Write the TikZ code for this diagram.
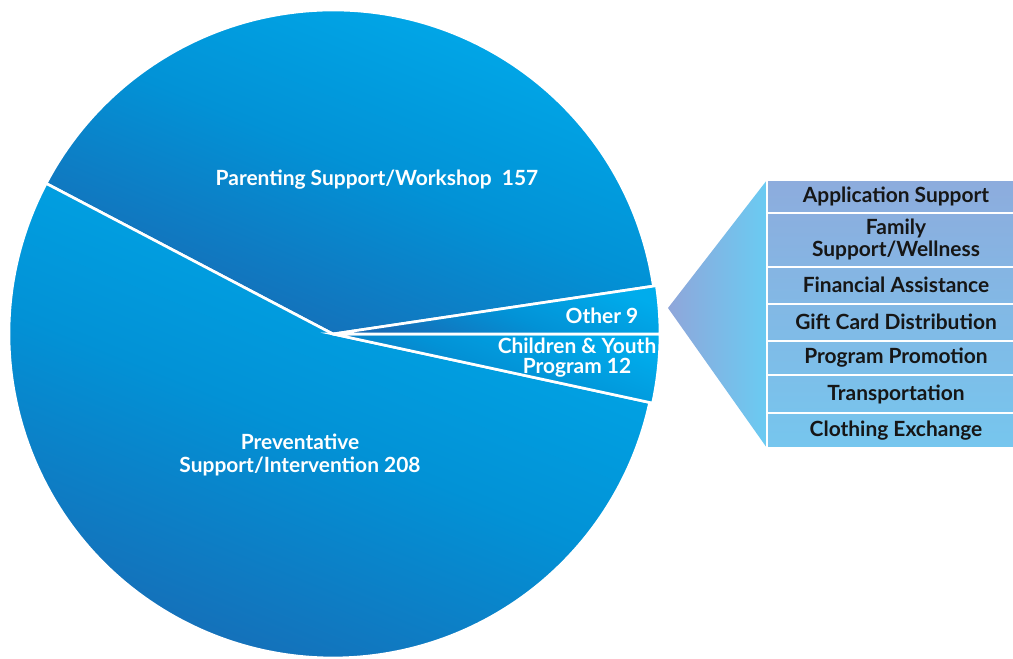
\documentclass[tikz,border=0pt]{standalone}
\usepackage{fontspec}
\setmainfont{Lato}
\tikzset{every picture/.style={line width=0.75pt}}

\definecolor{pielight}{RGB}{0,172,236}
\definecolor{piemid}{RGB}{2,146,214}
\definecolor{piedark}{RGB}{24,106,180}
\definecolor{trileft}{RGB}{143,166,218}
\definecolor{triright}{RGB}{106,203,242}
\definecolor{tabtop}{RGB}{141,172,221}
\definecolor{tabbot}{RGB}{118,198,238}
\definecolor{rowink}{RGB}{22,22,22}

\tikzset{
  slice/.style={draw=white, line width=2pt, top color=pielight, bottom color=piedark, middle color=piemid, shading angle=-22},
  rowline/.style={draw=white, line width=1.5pt},
  pielabel/.style={text=white, font=\bfseries\fontsize{15.7}{17}\selectfont, align=center, inner sep=0.75pt},
  rowtext/.style={text=rowink, font=\bfseries\fontsize{15.7}{16.5}\selectfont, align=center, inner sep=0.75pt}
}

\begin{document}
\begin{tikzpicture}[x=0.75pt,y=0.75pt,yscale=-1,xscale=1]
\clip (0,0) rectangle (1013,658);

%Shape: Pie slice [id:parenting]
\shade[slice] (333,334) -- ++(-8.5:324) arc (-8.5:-152.3:324) -- cycle ;
%Shape: Pie slice [id:preventative]
\shade[slice] (333,334) -- ++(-152.3:324) arc (-152.3:-347.8:324) -- cycle ;
%Shape: Pie slice [id:children]
\shade[slice] (333,334) -- ++(12.2:327) arc (12.2:0:327) -- cycle ;
%Shape: Pie slice [id:other]
\shade[slice] (333,334) -- ++(0:327) arc (0:-8.5:327) -- cycle ;

%Shape: Triangle [id:pointer]
\shade[left color=trileft, right color=triright] (668,308) -- (767,180) -- (767,448) -- cycle ;

%Shape: Table [id:breakdown]
\shade[top color=tabtop, bottom color=tabbot] (767,180) rectangle (1025,448) ;
\draw[rowline] (767,180) rectangle (1025,212.5) ;
\draw[rowline] (767,212.5) rectangle (1025,267) ;
\draw[rowline] (767,267) rectangle (1025,303.5) ;
\draw[rowline] (767,303.5) rectangle (1025,341) ;
\draw[rowline] (767,341) rectangle (1025,375) ;
\draw[rowline] (767,375) rectangle (1025,413) ;
\draw[rowline] (767,413) rectangle (1025,448) ;

% Text Node
\draw (377,180) node [pielabel] (parenting) {Parenting Support/Workshop\ \ 157};
% Text Node
\draw (300,455) node [pielabel, font=\bfseries\fontsize{15.7}{17.3}\selectfont] (preventative) {Preventative\\Support/Intervention 208};
% Text Node
\draw (602,316) node [pielabel] (other) {Other 9};
% Text Node
\draw (577,358) node [pielabel, font=\bfseries\fontsize{15.7}{15}\selectfont] (children) {Children \& Youth\\Program 12};

% Text Node
\draw (896,196) node [rowtext] (application) {Application Support};
% Text Node
\draw (896,239.5) node [rowtext] (family) {Family\\Support/Wellness};
% Text Node
\draw (896,285) node [rowtext] (financial) {Financial Assistance};
% Text Node
\draw (896,322) node [rowtext] (giftcard) {Gift Card Distribution};
% Text Node
\draw (896,358) node [rowtext] (promotion) {Program Promotion};
% Text Node
\draw (896,394) node [rowtext] (transport) {Transportation};
% Text Node
\draw (896,430.5) node [rowtext] (clothing) {Clothing Exchange};

\end{tikzpicture}
\end{document}
